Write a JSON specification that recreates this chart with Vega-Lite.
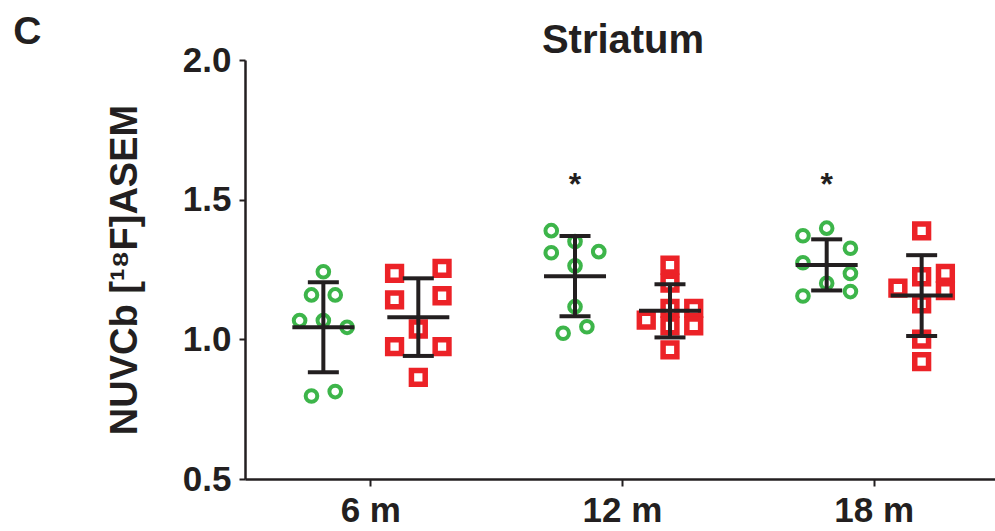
{
  "$schema": "https://vega.github.io/schema/vega-lite/v6.json",
  "width": 755,
  "height": 419,
  "autosize": "none",
  "padding": {"left": 245, "top": 60, "right": 0, "bottom": 52},
  "background": "white",
  "title": {"text": "C", "anchor": "start", "frame": "bounds", "font": "Liberation Sans", "fontSize": 39, "fontWeight": "bold", "color": "#231F20", "dx": -93, "dy": 36},
  "datasets": {
    "pts": [
      {"age": "6 m", "group": "WT", "value": 1.242, "slot": "2"},
      {"age": "6 m", "group": "WT", "value": 1.159, "slot": "1"},
      {"age": "6 m", "group": "WT", "value": 1.159, "slot": "3"},
      {"age": "6 m", "group": "WT", "value": 1.067, "slot": "0"},
      {"age": "6 m", "group": "WT", "value": 1.067, "slot": "2"},
      {"age": "6 m", "group": "WT", "value": 1.043, "slot": "4"},
      {"age": "6 m", "group": "WT", "value": 0.797, "slot": "1"},
      {"age": "6 m", "group": "WT", "value": 0.813, "slot": "3"},
      {"age": "6 m", "group": "Tg", "value": 1.236, "slot": "8"},
      {"age": "6 m", "group": "Tg", "value": 1.254, "slot": "12"},
      {"age": "6 m", "group": "Tg", "value": 1.141, "slot": "8"},
      {"age": "6 m", "group": "Tg", "value": 1.156, "slot": "12"},
      {"age": "6 m", "group": "Tg", "value": 1.037, "slot": "10"},
      {"age": "6 m", "group": "Tg", "value": 0.974, "slot": "8"},
      {"age": "6 m", "group": "Tg", "value": 0.974, "slot": "12"},
      {"age": "6 m", "group": "Tg", "value": 0.864, "slot": "10"},
      {"age": "12 m", "group": "WT", "value": 1.389, "slot": "0"},
      {"age": "12 m", "group": "WT", "value": 1.350, "slot": "2"},
      {"age": "12 m", "group": "WT", "value": 1.310, "slot": "0"},
      {"age": "12 m", "group": "WT", "value": 1.314, "slot": "4"},
      {"age": "12 m", "group": "WT", "value": 1.263, "slot": "2"},
      {"age": "12 m", "group": "WT", "value": 1.117, "slot": "2"},
      {"age": "12 m", "group": "WT", "value": 1.045, "slot": "3"},
      {"age": "12 m", "group": "WT", "value": 1.022, "slot": "1"},
      {"age": "12 m", "group": "Tg", "value": 1.266, "slot": "10"},
      {"age": "12 m", "group": "Tg", "value": 1.201, "slot": "10"},
      {"age": "12 m", "group": "Tg", "value": 1.111, "slot": "10"},
      {"age": "12 m", "group": "Tg", "value": 1.069, "slot": "8"},
      {"age": "12 m", "group": "Tg", "value": 1.111, "slot": "12"},
      {"age": "12 m", "group": "Tg", "value": 1.048, "slot": "12"},
      {"age": "12 m", "group": "Tg", "value": 1.048, "slot": "10"},
      {"age": "12 m", "group": "Tg", "value": 0.962, "slot": "10"},
      {"age": "18 m", "group": "WT", "value": 1.398, "slot": "2"},
      {"age": "18 m", "group": "WT", "value": 1.371, "slot": "0"},
      {"age": "18 m", "group": "WT", "value": 1.326, "slot": "4"},
      {"age": "18 m", "group": "WT", "value": 1.274, "slot": "0"},
      {"age": "18 m", "group": "WT", "value": 1.236, "slot": "4"},
      {"age": "18 m", "group": "WT", "value": 1.201, "slot": "2"},
      {"age": "18 m", "group": "WT", "value": 1.155, "slot": "0"},
      {"age": "18 m", "group": "WT", "value": 1.171, "slot": "4"},
      {"age": "18 m", "group": "Tg", "value": 1.388, "slot": "10"},
      {"age": "18 m", "group": "Tg", "value": 1.236, "slot": "12"},
      {"age": "18 m", "group": "Tg", "value": 1.224, "slot": "10"},
      {"age": "18 m", "group": "Tg", "value": 1.183, "slot": "8"},
      {"age": "18 m", "group": "Tg", "value": 1.174, "slot": "12"},
      {"age": "18 m", "group": "Tg", "value": 1.127, "slot": "10"},
      {"age": "18 m", "group": "Tg", "value": 1.001, "slot": "10"},
      {"age": "18 m", "group": "Tg", "value": 0.920, "slot": "10"}
    ],
    "centers": [
      {"group": "WT", "cslot": "2"},
      {"group": "Tg", "cslot": "10"}
    ],
    "sig": [
      {"age": "12 m", "group": "WT", "level": 1.552, "label": "*"},
      {"age": "18 m", "group": "WT", "level": 1.552, "label": "*"}
    ]
  },
  "config": {
    "view": {"stroke": null},
    "axis": {
      "labelFont": "Liberation Sans", "labelFontWeight": "bold", "labelColor": "#231F20",
      "titleFont": "Liberation Sans", "titleFontWeight": "bold", "titleColor": "#231F20",
      "domainColor": "#231F20", "tickColor": "#231F20", "domainWidth": 2.5, "tickWidth": 2, "grid": false
    },
    "axisY": {"labelFontSize": 35, "tickSize": 6, "labelPadding": 8, "titleFontSize": 38, "titlePadding": 38},
    "axisBottom": {"labelFontSize": 35, "tickSize": 7, "labelPadding": 7, "labelAngle": 0}
  },
  "resolve": {"axis": {"x": "independent"}},
  "layer": [
    {
      "data": {"name": "pts"},
      "mark": {"type": "point", "filled": false, "opacity": 1},
      "encoding": {
        "x": {"field": "age", "type": "nominal", "scale": {"domain": ["6 m", "12 m", "18 m"], "paddingInner": 0, "paddingOuter": 0}, "axis": {"title": null, "orient": "bottom"}},
        "xOffset": {"field": "slot", "type": "nominal", "scale": {"domain": ["a1", "a2", "a3", "a4", "0", "1", "2", "3", "4", "5", "6", "7", "8", "9", "10", "11", "12", "b1", "b2", "b3", "b4"], "paddingInner": 0, "paddingOuter": 0.1}},
        "y": {"field": "value", "type": "quantitative", "title": "NUVCb [¹⁸F]ASEM", "scale": {"domain": [0.5, 2], "zero": false, "nice": false}, "axis": {"values": [0.5, 1, 1.5, 2], "format": ".1f"}},
        "color": {"field": "group", "type": "nominal", "scale": {"domain": ["WT", "Tg"], "range": ["#3DB54A", "#EC2227"]}, "legend": null},
        "shape": {"field": "group", "type": "nominal", "scale": {"domain": ["WT", "Tg"], "range": ["circle", "square"]}, "legend": null},
        "size": {"field": "group", "type": "nominal", "scale": {"domain": ["WT", "Tg"], "range": [135, 190]}, "legend": null},
        "strokeWidth": {"field": "group", "type": "nominal", "scale": {"domain": ["WT", "Tg"], "range": [4, 5.5]}, "legend": null}
      }
    },
    {
      "data": {"name": "pts"},
      "transform": [{"lookup": "group", "from": {"data": {"name": "centers"}, "key": "group", "fields": ["cslot"]}}],
      "mark": {"type": "errorbar", "extent": "stdev", "color": "#231F20", "opacity": 1, "thickness": 4, "ticks": {"size": 31, "thickness": 4, "opacity": 1}, "rule": {"opacity": 1}},
      "encoding": {
        "x": {"field": "age", "type": "nominal", "axis": null},
        "xOffset": {"field": "cslot", "type": "nominal"},
        "y": {"field": "value", "type": "quantitative", "title": "NUVCb [¹⁸F]ASEM"}
      }
    },
    {
      "data": {"name": "pts"},
      "transform": [{"lookup": "group", "from": {"data": {"name": "centers"}, "key": "group", "fields": ["cslot"]}}],
      "mark": {"type": "tick", "color": "#231F20", "opacity": 1, "size": 62, "thickness": 4, "orient": "horizontal"},
      "encoding": {
        "x": {"field": "age", "type": "nominal", "axis": {"orient": "top", "labels": false, "ticks": false, "domain": false, "title": "Striatum", "titleFontSize": 40, "titlePadding": 0}},
        "xOffset": {"field": "cslot", "type": "nominal"},
        "y": {"field": "value", "aggregate": "mean", "type": "quantitative", "title": "NUVCb [¹⁸F]ASEM"}
      }
    },
    {
      "data": {"name": "sig"},
      "transform": [{"lookup": "group", "from": {"data": {"name": "centers"}, "key": "group", "fields": ["cslot"]}}],
      "mark": {"type": "text", "font": "Liberation Sans", "fontSize": 32, "fontWeight": "bold", "baseline": "middle", "color": "#231F20"},
      "encoding": {
        "x": {"field": "age", "type": "nominal", "axis": null},
        "xOffset": {"field": "cslot", "type": "nominal"},
        "y": {"field": "level", "type": "quantitative", "title": "NUVCb [¹⁸F]ASEM"},
        "text": {"field": "label"}
      }
    }
  ]
}
